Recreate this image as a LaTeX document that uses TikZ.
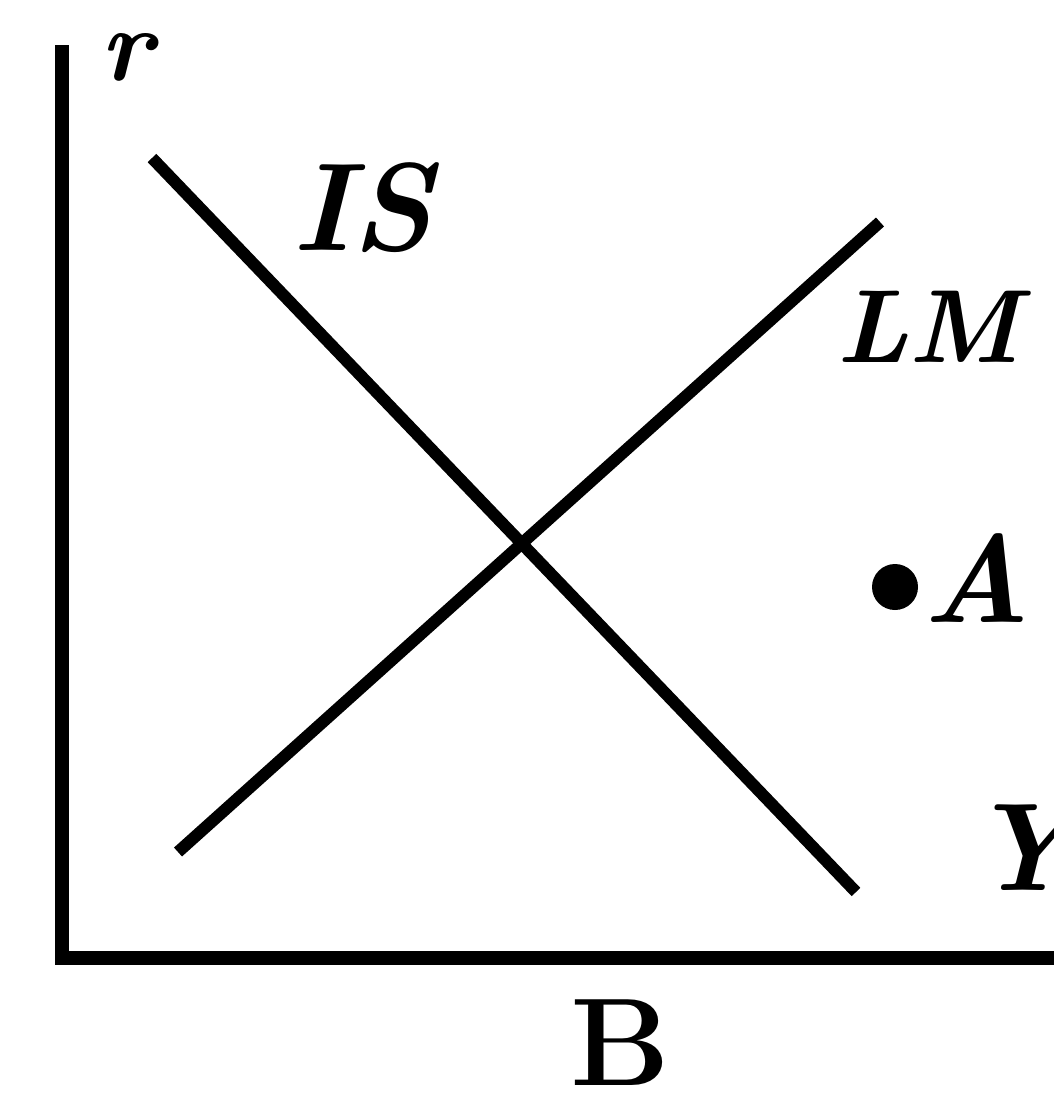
\documentclass[tikz,border=0pt]{standalone}
\begin{document}
\begin{tikzpicture}[x=1pt,y=-1pt,
  axisline/.style={line width=14pt,black},
  curve/.style={line width=12pt,black},
  lbl/.style={inner sep=0pt,anchor=base west,font=\fontsize{125}{130}\selectfont\bfseries\itshape},
  smalllbl/.style={inner sep=0pt,anchor=base west,font=\fontsize{104}{104}\selectfont\bfseries\itshape}]
\useasboundingbox (0,0) rectangle (1053,1095);
% axes
\coordinate (top) at (62,45);
\coordinate (origin) at (62,958);
\coordinate (right) at (1070,958);
\draw[axisline,line join=miter] (top) -- (origin) -- (right);
% IS and LM curves
\coordinate (is1) at (152,158);
\coordinate (is2) at (856,892);
\coordinate (lm1) at (178,852);
\coordinate (lm2) at (880,222);
\draw[curve] (is1) -- (is2);
\draw[curve] (lm1) -- (lm2);
% labels
\node[smalllbl] (r) at (100,80) {r};
\node[lbl] (IS) at (292,250) {IS};
\node[smalllbl] (LM) at (836,362) {LM};
\node[circle,fill=black,inner sep=0pt,minimum size=46pt] (dot) at (895,587) {};
\node[lbl] (A) at (922,622) {A};
\node[lbl] (Y) at (968,890) {Y};
\node[lbl,font=\fontsize{125}{130}\selectfont\bfseries] (B) at (570,1085) {B};
\end{tikzpicture}
\end{document}
